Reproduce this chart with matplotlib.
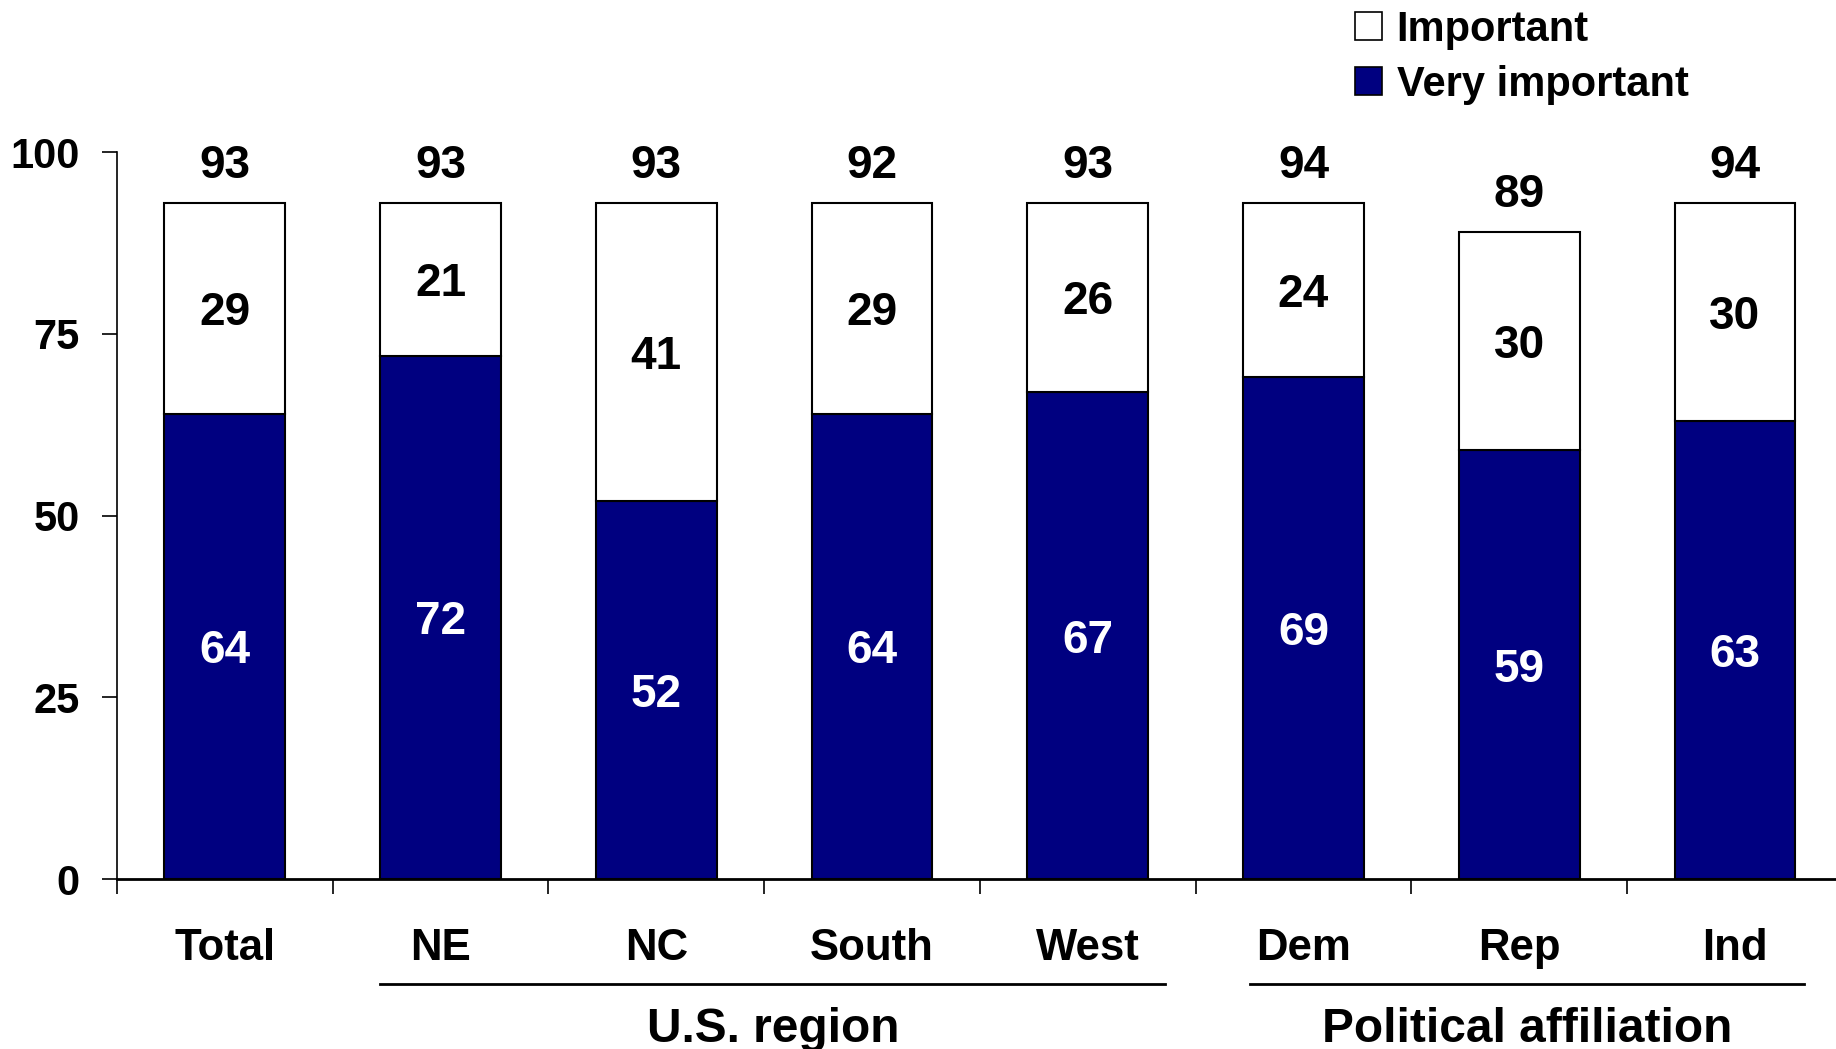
import numpy as np
import matplotlib.pyplot as plt
import matplotlib.transforms as mtransforms
from matplotlib.patches import Patch

plt.rcParams['font.family'] = ['Liberation Sans', 'DejaVu Sans']
plt.rcParams['font.weight'] = 'bold'

# data
categories = ["Total", "NE", "NC", "South", "West", "Dem", "Rep", "Ind"]
very_important = [64, 72, 52, 64, 67, 69, 59, 63]
important = [29, 21, 41, 29, 26, 24, 30, 30]
totals = [93, 93, 93, 92, 93, 94, 89, 94]
groups = ["U.S. region", "Political affiliation"]

navy = "#000080"
x = np.arange(len(categories))
w = 0.56

fig = plt.figure(figsize=(18.36, 10.49), dpi=100)
ax = fig.add_axes([0.0637, 0.162, 0.94, 0.693])

b1 = ax.bar(x, very_important, w, color=navy, edgecolor='black', linewidth=1.5)
b2 = ax.bar(x, important, w, bottom=very_important, color='white',
            edgecolor='black', linewidth=1.5)

for i in range(len(categories)):
    ax.text(x[i], very_important[i] / 2, str(very_important[i]), ha='center',
            va='center_baseline', color='white', fontsize=33, fontweight='bold')
    ax.text(x[i], very_important[i] + important[i] / 2, str(important[i]),
            ha='center', va='center_baseline', color='black', fontsize=33,
            fontweight='bold')
    ax.annotate(str(totals[i]), (x[i], very_important[i] + important[i]),
                xytext=(0, 18), textcoords='offset points', ha='center',
                va='baseline', fontsize=33, fontweight='bold', annotation_clip=False)

ax.set_xlim(-0.5, 7.5)
ax.set_ylim(0, 100)
ax.set_yticks([0, 25, 50, 75, 100])
ax.tick_params(axis='y', direction='out', length=11, width=1.2, pad=16,
               labelsize=30)
ax.set_xticks(x)
ax.set_xticklabels(categories)
ax.set_xticks(np.arange(-0.5, 7, 1), minor=True)
ax.tick_params(axis='x', which='major', length=0, pad=35, labelsize=31.5)
ax.tick_params(axis='x', which='minor', direction='out', length=11, width=1.2)
for lab in ax.get_xticklabels() + ax.get_yticklabels():
    lab.set_fontweight('bold')

for s in ['top', 'right']:
    ax.spines[s].set_visible(False)
ax.spines['left'].set_linewidth(1.2)
ax.spines['bottom'].set_linewidth(2)

# group brackets under the categories
trans = mtransforms.blended_transform_factory(ax.transData, fig.transFigure)
spans = [(0.72, 4.36), (4.75, 7.32)]
for (a, b), g in zip(spans, groups):
    ax.plot([a, b], [0.062, 0.062], color='black', linewidth=2,
            transform=trans, clip_on=False)
    ax.text((a + b) / 2, 0.0067, g, transform=trans, ha='center',
            va='baseline', fontsize=34.5, fontweight='bold')

handles = [Patch(facecolor='white', edgecolor='black', linewidth=1.2),
           Patch(facecolor=navy, edgecolor='black', linewidth=1.2)]
fig.legend(handles, ["Important", "Very important"], loc='upper left',
           bbox_to_anchor=(1355 / 1836, 1 - 10 / 1049), frameon=False,
           fontsize=30, handlelength=0.65, handleheight=0.65,
           handletextpad=0.35, labelspacing=0.35, borderpad=0,
           borderaxespad=0)

fig.savefig("out.png", dpi=100)
